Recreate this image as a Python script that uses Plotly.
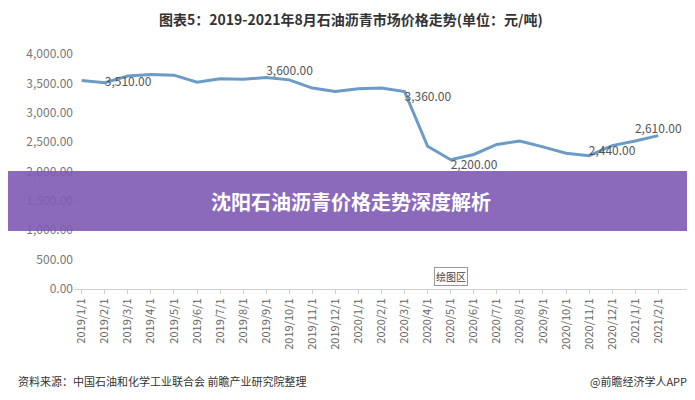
import plotly.graph_objects as go

months = ["2019/1/1","2019/2/1","2019/3/1","2019/4/1","2019/5/1","2019/6/1","2019/7/1","2019/8/1","2019/9/1",
          "2019/10/1","2019/11/1","2019/12/1","2020/1/1","2020/2/1","2020/3/1","2020/4/1","2020/5/1","2020/6/1",
          "2020/7/1","2020/8/1","2020/9/1","2020/10/1","2020/11/1","2020/12/1","2021/1/1","2021/2/1"]
prices = [3550,3510,3625,3650,3640,3520,3580,3570,3600,3560,3420,3360,3410,3420,3360,2430,2200,2290,
          2460,2520,2420,2310,2270,2440,2520,2610]
label_idx = [1,8,14,16,23,25]
label_pos = ["middle right","top right","bottom right","bottom right","bottom center","top center"]
yticks = [0,500,1000,1500,2000,2500,3000,3500,4000]

fig = go.Figure()
fig.add_trace(go.Scatter(x=months, y=prices, mode="lines",
                         line=dict(color="#6b9bc6", width=3), hoverinfo="skip"))
for i, p in zip(label_idx, label_pos):
    fig.add_trace(go.Scatter(x=[months[i]], y=[prices[i]], mode="text",
                             text=[f"{prices[i]:,.2f}"], textposition=p,
                             textfont=dict(size=12, color="#555"), hoverinfo="skip"))

fig.update_layout(
    width=695, height=400, showlegend=False,
    paper_bgcolor="white", plot_bgcolor="white",
    margin=dict(l=66, r=14, t=46, b=119),
    font=dict(family="Noto Sans CJK SC, sans-serif", color="#666"),
    xaxis=dict(type="category", tickangle=-90, tickfont=dict(size=11, color="#666"),
               showgrid=False, showline=True, linecolor="#d0d0d0", ticks="outside",
               tickcolor="#d0d0d0", ticklen=4),
    yaxis=dict(range=[0,4000], tickvals=yticks, ticktext=[f"{v:,.2f}" for v in yticks],
               tickfont=dict(size=12, color="#777"), showgrid=False, zeroline=False),
    annotations=[
        dict(text="<b>图表5：2019-2021年8月石油沥青市场价格走势(单位：元/吨)</b>", x=0.45, y=1.149, xref="paper",
             yref="paper", yanchor="middle", showarrow=False, font=dict(size=14, color="#333")),
        dict(text="绘图区", x="2020/5/1", y=220, xref="x", yref="y", showarrow=False,
             font=dict(size=10, color="#444"), bordercolor="#999", borderwidth=1, bgcolor="white"),
        dict(text="资料来源：中国石油和化学工业联合会 前瞻产业研究院整理", x=-0.095, y=-0.391, xref="paper",
             yref="paper", xanchor="left", yanchor="middle", showarrow=False, font=dict(size=11, color="#333")),
        dict(text="@前瞻经济学人APP", x=1.0, y=-0.391, xref="paper", yref="paper",
             xanchor="right", yanchor="middle", showarrow=False, font=dict(size=11, color="#333")),
        dict(text="<b>沈阳石油沥青价格走势深度解析</b>", x=0.45, y=0.374, xref="paper", yref="paper",
             yanchor="middle", showarrow=False, font=dict(size=20, color="white")),
    ],
    shapes=[dict(type="rect", xref="paper", yref="paper", x0=-0.5, x1=1.5, y0=0.247, y1=0.502,
                 fillcolor="rgba(128,90,180,0.9)", line=dict(width=0), layer="above")],
)
fig.write_html("out.html")
